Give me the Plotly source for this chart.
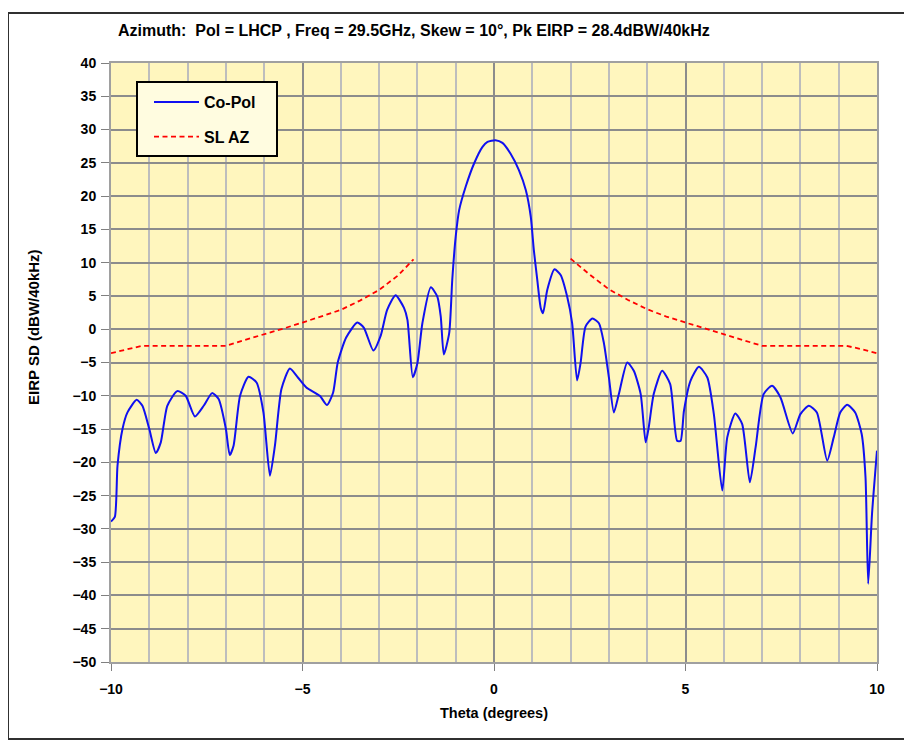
import plotly.graph_objects as go

# Co-Pol pattern (theta in degrees, EIRP SD in dBW/40kHz)
copol_theta = [-10.0, -9.9, -9.83, -9.7, -9.57, -9.33, -9.18, -9.0, -8.83, -8.7, -8.53, -8.27, -8.05,
               -7.81, -7.58, -7.36, -7.19, -7.0, -6.9, -6.8, -6.63, -6.41, -6.2, -6.02, -5.85, -5.72,
               -5.55, -5.33, -5.12, -4.9, -4.55, -4.36, -4.2, -4.08, -3.86, -3.57, -3.4, -3.15, -2.96,
               -2.79, -2.57, -2.35, -2.26, -2.12, -2.0, -1.87, -1.65, -1.48, -1.39, -1.31, -1.17, -1.09,
               -1.0, -0.91, -0.74, -0.52, -0.3, -0.17, 0.04, 0.22, 0.43, 0.65, 0.83, 0.96, 1.04, 1.13,
               1.22, 1.28, 1.39, 1.58, 1.74, 1.91, 2.04, 2.17, 2.26, 2.39, 2.57, 2.74, 2.87, 3.0, 3.13,
               3.26, 3.48, 3.65, 3.83, 3.96, 4.04, 4.17, 4.39, 4.6, 4.78, 4.87, 4.96, 5.13, 5.35, 5.57,
               5.74, 5.96, 6.09, 6.3, 6.48, 6.68, 6.83, 7.04, 7.26, 7.48, 7.8, 8.0, 8.22, 8.43, 8.7,
               8.87, 9.04, 9.22, 9.43, 9.6, 9.7, 9.77, 9.87, 10.0]
copol_eirp = [-28.9, -28.2, -20.5, -15, -12.5, -10.6, -11.5, -15, -18.6, -17, -11.5, -9.3, -10,
              -13.1, -11.5, -9.6, -10.5, -15, -18.9, -17.5, -10, -7.15, -8, -12.5, -22, -17.5,
              -9, -5.9, -7.25, -8.75, -10, -11.4, -9.5, -5, -1.25, 1.0, 0.25, -3.2, -1.0,
              2.9, 5.1, 3.2, 1.4, -7.2, -5.1, 0.9, 6.3, 4.9, 1.9, -3.8, -0.6, 7.4,
              13.9, 17.9, 21.4, 24.9, 27.4, 28.15, 28.4, 28.0, 26.4, 23.9, 20.9, 16.9, 11.9, 7.4,
              3.2, 2.4, 5.9, 9.0, 8.15, 4.9, 0.9, -7.7, -5.1, 0.4, 1.6, 0.9, -2.1, -7.25, -12.5,
              -9.75, -5.0, -6.25, -9.75, -17, -14.75, -9.75, -6.25, -8.25, -16.75, -16.8, -12.25, -7.75, -5.65, -7.25,
              -12.75, -24.25, -16.25, -12.65, -14.25, -23, -17.75, -9.75, -8.5, -10.25, -15.65, -12.75, -11.5, -12.5, -19.75,
              -16.25, -12.5, -11.35, -12.5, -15.75, -22.25, -38.25, -27.75, -18.25]

# Side-lobe azimuth mask (two branches, gap around the main beam)
slaz_theta = [-10.0, -9.6, -9.2, -8.0, -7.0, -6.5, -6.0, -5.5, -5.0, -4.5, -4.0, -3.5, -3.0, -2.5, -2.1,
              None,
              2.0, 2.5, 3.0, 3.5, 4.0, 4.5, 5.0, 5.5, 6.0, 6.5, 7.0, 8.0, 9.2, 9.6, 10.0]
slaz_eirp = [-3.6, -3.0, -2.5, -2.5, -2.5, -1.6, -0.8, 0.1, 1.0, 1.9, 2.9, 4.3, 5.9, 8.1, 10.5,
             None,
             10.6, 8.2, 6.0, 4.4, 3.0, 1.9, 1.0, 0.1, -0.8, -1.6, -2.5, -2.5, -2.5, -3.0, -3.6]

x_ticks = [-10, -5, 0, 5, 10]
y_ticks = list(range(-50, 41, 5))

title_text = "Azimuth:  Pol = LHCP , Freq = 29.5GHz, Skew = 10\u00b0, Pk EIRP = 28.4dBW/40kHz"

FONT = "Liberation Sans, Arial, sans-serif"

fig = go.Figure()
fig.add_trace(go.Scatter(
    x=copol_theta, y=copol_eirp, mode="lines", name="Co-Pol",
    line=dict(color="#1010F0", width=2, shape="spline", smoothing=0.6),
    legendgroup="a",
))
fig.add_trace(go.Scatter(
    x=slaz_theta, y=slaz_eirp, mode="lines", name="SL AZ",
    line=dict(color="#FF0000", width=1.8, dash="5px,3.5px"),
    connectgaps=False, legendgroup="b",
))

OFF = 8  # page body margin
W, H = 912 - OFF, 742 - OFF
L, R, T, B = 111 - OFF, W - (877 - OFF), 63 - OFF, H - (662 - OFF)
pw, ph = W - L - R, H - T - B

def px(xp):
    return (xp - OFF - L) / pw

def py(yp):
    return (H - B - (yp - OFF)) / ph

fig.update_layout(
    width=W, height=H,
    margin=dict(l=L, r=R, t=T, b=B, pad=0),
    paper_bgcolor="white",
    plot_bgcolor="#FFF6BE",
    font=dict(family=FONT, size=13, color="black"),
    showlegend=True,
    legend=dict(
        x=px(149), y=py(85), xanchor="left", yanchor="top",
        bgcolor="rgba(0,0,0,0)", borderwidth=0,
        font=dict(family=FONT, size=16, color="black", weight="bold"),
        traceorder="grouped", tracegroupgap=11,
        itemwidth=45,
    ),
    xaxis=dict(
        range=[-10, 10], tickvals=x_ticks, ticks="outside", ticklen=7, tickcolor="#808080",
        tickfont=dict(family=FONT, size=14, weight="bold"),
        showgrid=True, gridcolor="#8C8C8C", gridwidth=1.5,
        minor=dict(dtick=1, showgrid=True, gridcolor="#BDBDBD", gridwidth=1.5),
        showline=True, linecolor="#A0A0A0", linewidth=2, mirror=True,
        zeroline=False, ticklabelstandoff=6,
    ),
    yaxis=dict(
        range=[-50, 40], tickvals=y_ticks, ticks="outside", ticklen=8, tickcolor="#808080",
        tickfont=dict(family=FONT, size=14, weight="bold"),
        showgrid=True, gridcolor="#8C8C8C", gridwidth=1.5,
        showline=True, linecolor="#A0A0A0", linewidth=2, mirror=True,
        zeroline=False, ticklabelstandoff=2,
    ),
    annotations=[
        dict(text=title_text, x=px(414), y=py(31), xref="paper", yref="paper",
             showarrow=False, xanchor="center", yanchor="middle",
             font=dict(family=FONT, size=16, weight="bold")),
        dict(text="Theta (degrees)", x=px(494), y=py(713), xref="paper", yref="paper",
             showarrow=False, xanchor="center", yanchor="middle",
             font=dict(family=FONT, size=14.5, weight="bold")),
        dict(text="EIRP SD (dBW/40kHz)", x=px(33), y=py(327), xref="paper", yref="paper",
             showarrow=False, xanchor="center", yanchor="middle", textangle=-90,
             font=dict(family=FONT, size=15, weight="bold")),
    ],
    shapes=[
        dict(type="rect", xref="paper", yref="paper",
             x0=px(8), x1=px(905), y0=py(739), y1=py(13),
             line=dict(color="#303030", width=2), fillcolor="rgba(0,0,0,0)", layer="below"),
        dict(type="rect", xref="paper", yref="paper",
             x0=px(137), x1=px(277), y0=py(156), y1=py(82),
             line=dict(color="black", width=2), fillcolor="#FFFCE0", layer="above"),
    ],
)

fig.write_html("out.html")
